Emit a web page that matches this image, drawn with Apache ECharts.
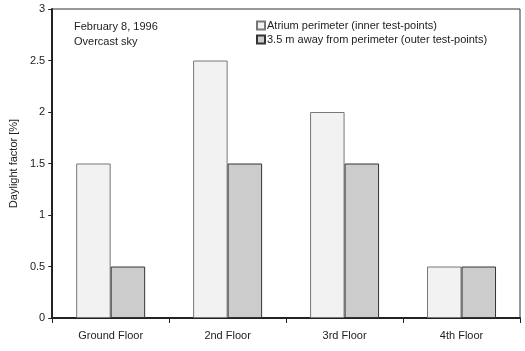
<!DOCTYPE html>
<html>
<head>
<meta charset="utf-8">
<script src="https://cdn.jsdelivr.net/npm/echarts@6/dist/echarts.min.js"></script>
<style>
    html, body { margin: 0; padding: 0; background: #fff; }
    #chart { width: 525px; height: 351px; }
</style>
</head>
<body>
<div id="chart"></div>
<script>
// 数据
var floors = ["Ground Floor", "2nd Floor", "3rd Floor", "4th Floor"];
var innerPoints = [1.5, 2.5, 2.0, 0.5];
var outerPoints = [0.5, 1.5, 1.5, 0.5];
var seriesNames = ["Atrium perimeter (inner test-points)", "3.5 m away from perimeter (outer test-points)"];
var noteLines = ["February 8, 1996", "Overcast sky"];

var font = "Liberation Sans, Arial, Helvetica, sans-serif";
var myChart = echarts.init(document.getElementById("chart"));

myChart.setOption({
    animation: false,
    textStyle: { fontFamily: font },
    grid: {
        left: 47,
        right: 5,
        top: 9,
        bottom: 33,
        show: true,
        borderColor: "#333",
        borderWidth: 1
    },
    legend: {
        orient: "vertical",
        left: 251,
        top: 15,
        itemWidth: 8,
        itemHeight: 8,
        itemGap: 3,
        icon: "rect",
        textStyle: { fontSize: 11, color: "#222", fontFamily: font, padding: [0, 0, 0, -3] },
        data: seriesNames
    },
    graphic: [
        {
            type: "text",
            left: 74,
            top: 19,
            style: {
                text: noteLines.join("\n"),
                font: "11px " + font,
                fill: "#222",
                lineHeight: 15
            }
        }
    ],
    xAxis: {
        type: "category",
        data: floors,
        axisLine: { lineStyle: { color: "#222", width: 2 } },
        axisTick: { show: true, length: 5, lineStyle: { color: "#222", width: 1 } },
        axisLabel: { color: "#222", fontSize: 11, margin: 12 }
    },
    yAxis: {
        type: "value",
        min: 0,
        max: 3,
        interval: 0.5,
        name: "Daylight factor [%]",
        nameLocation: "middle",
        nameGap: 30,
        nameTextStyle: { color: "#222", fontSize: 11 },
        axisLine: { show: true, lineStyle: { color: "#222", width: 2 } },
        axisTick: { show: true, length: 4, lineStyle: { color: "#222" } },
        axisLabel: { color: "#222", fontSize: 11, margin: 7 },
        splitLine: { show: false }
    },
    series: [
        {
            name: seriesNames[0],
            type: "bar",
            data: innerPoints,
            barGap: "0%",
            barCategoryGap: "41%",
            itemStyle: { color: "#f2f2f2", borderColor: "#777", borderWidth: 1 }
        },
        {
            name: seriesNames[1],
            type: "bar",
            data: outerPoints,
            itemStyle: { color: "#cccccc", borderColor: "#333", borderWidth: 1 }
        }
    ]
});
</script>
</body>
</html>
